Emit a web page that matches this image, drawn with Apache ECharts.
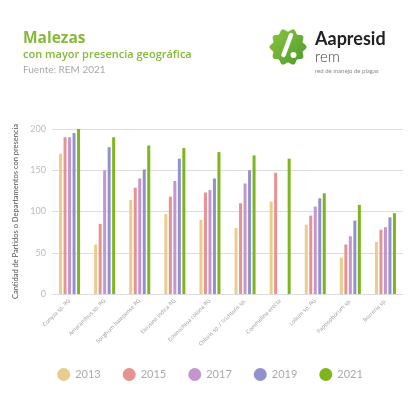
<!DOCTYPE html>
<html><head><meta charset="utf-8">
<script src="https://cdn.jsdelivr.net/npm/echarts@6/dist/echarts.min.js"></script>
<style>html,body{margin:0;padding:0;background:#fff}#c{width:420px;height:420px}</style>
</head><body><div id="c"></div>
<script>
const categories = ["Conyza sp. RG","Amaranthus sp. RG","Sorghum halepense RG","Eleusine indica RG","Echinochloa colona RG","Chloris sp. / Trichloris sp.","Commelina erecta","Lolium sp. RG","Pappophorum sp.","Borreria sp."];
const years = ["2013","2015","2017","2019","2021"];
const v2013 = [170,60,114,97,90,80,112,84,44,63];
const v2015 = [190,85,129,118,123,110,147,95,60,78];
const v2017 = [190,150,140,137,126,134,null,106,70,81];
const v2019 = [195,178,151,164,140,150,null,116,89,93];
const v2021 = [200,190,180,177,172,168,164,122,108,98];
const yTicks = [0,50,100,150,200];
const colors = ["#eacd8c","#e99191","#c495cf","#9390cf","#7db51d"];
const values = [v2013,v2015,v2017,v2019,v2021];

const chart = echarts.init(document.getElementById('c'));

function badgePoints(cx, cy, r, n, amp){
  const pts = [];
  const steps = 180;
  for(let i=0;i<steps;i++){
    const a = i/steps*Math.PI*2;
    const rr = r + amp*Math.cos(n*a);
    pts.push([cx + rr*Math.cos(a), cy + rr*Math.sin(a)]);
  }
  return pts;
}

const FONT = 'Lato, "Open Sans", sans-serif';
const TFONT = '"Open Sans", Lato, sans-serif';
chart.setOption({
  animation:false,
  color: colors,
  grid:{left:52,right:17,top:129,bottom:126,containLabel:false},
  legend:{
    bottom:34,left:'center',itemGap:22,icon:'circle',itemWidth:13,itemHeight:13,
    textStyle:{color:'#aaa',fontSize:11,fontFamily:FONT},
    data: years
  },
  xAxis:{
    type:'category',data:categories,
    axisLine:{lineStyle:{color:'#ddd'}},
    axisTick:{show:false},
    axisLabel:{rotate:45,fontSize:5.5,color:'#999',interval:0,margin:6,fontFamily:TFONT}
  },
  yAxis:{
    type:'value',min:0,max:200,interval:50,
    name:'Cantidad de Partidos o Departamentos con presencia',
    nameLocation:'middle',nameGap:17,
    nameTextStyle:{fontSize:7.5,color:'#555',fontFamily:FONT},
    axisLabel:{color:'#bbb',fontSize:9,fontFamily:FONT,margin:6},
    axisLine:{show:false},axisTick:{show:false},
    splitLine:{lineStyle:{color:'#ddd'}}
  },
  series: years.map((y,i)=>({
    name:y,type:'bar',data:values[i],barWidth:3,barGap:'50%',
    itemStyle:{color:colors[i]}
  })),
  graphic:[
    {type:'text',x:23,y:31,style:{text:'Malezas',font:'bold 15.5px '+TFONT,fill:'#86b83a'}},
    {type:'text',x:23,y:49,style:{text:'con mayor presencia geográfica',font:'600 11px '+TFONT,fill:'#86b83a'}},
    {type:'text',x:23,y:65,style:{text:'Fuente: REM 2021',font:'10px '+FONT,fill:'#aaa'}},
    {type:'polygon',shape:{points:badgePoints(288,47,17,10,1.5)},style:{fill:new echarts.graphic.LinearGradient(0,0,1,1,[{offset:0,color:'#8cc63f'},{offset:1,color:'#4c9a2a'}])}},
    {type:'line',shape:{x1:291,y1:35,x2:283.5,y2:55},style:{stroke:'#fff',lineWidth:4.5,lineCap:'round'}},
    {type:'circle',shape:{cx:293.5,cy:55,r:3},style:{fill:'#fff'}},
    {type:'text',x:315,y:30,style:{text:'Aapresid',font:'bold 18px '+FONT,fill:'#222'}},
    {type:'text',x:315,y:50,style:{text:'rem',font:'300 15px '+FONT,fill:'#444'}},
    {type:'text',x:315,y:68,style:{text:'red de manejo de plagas',font:'6px '+FONT,fill:'#888'}}
  ]
});
</script></body></html>
